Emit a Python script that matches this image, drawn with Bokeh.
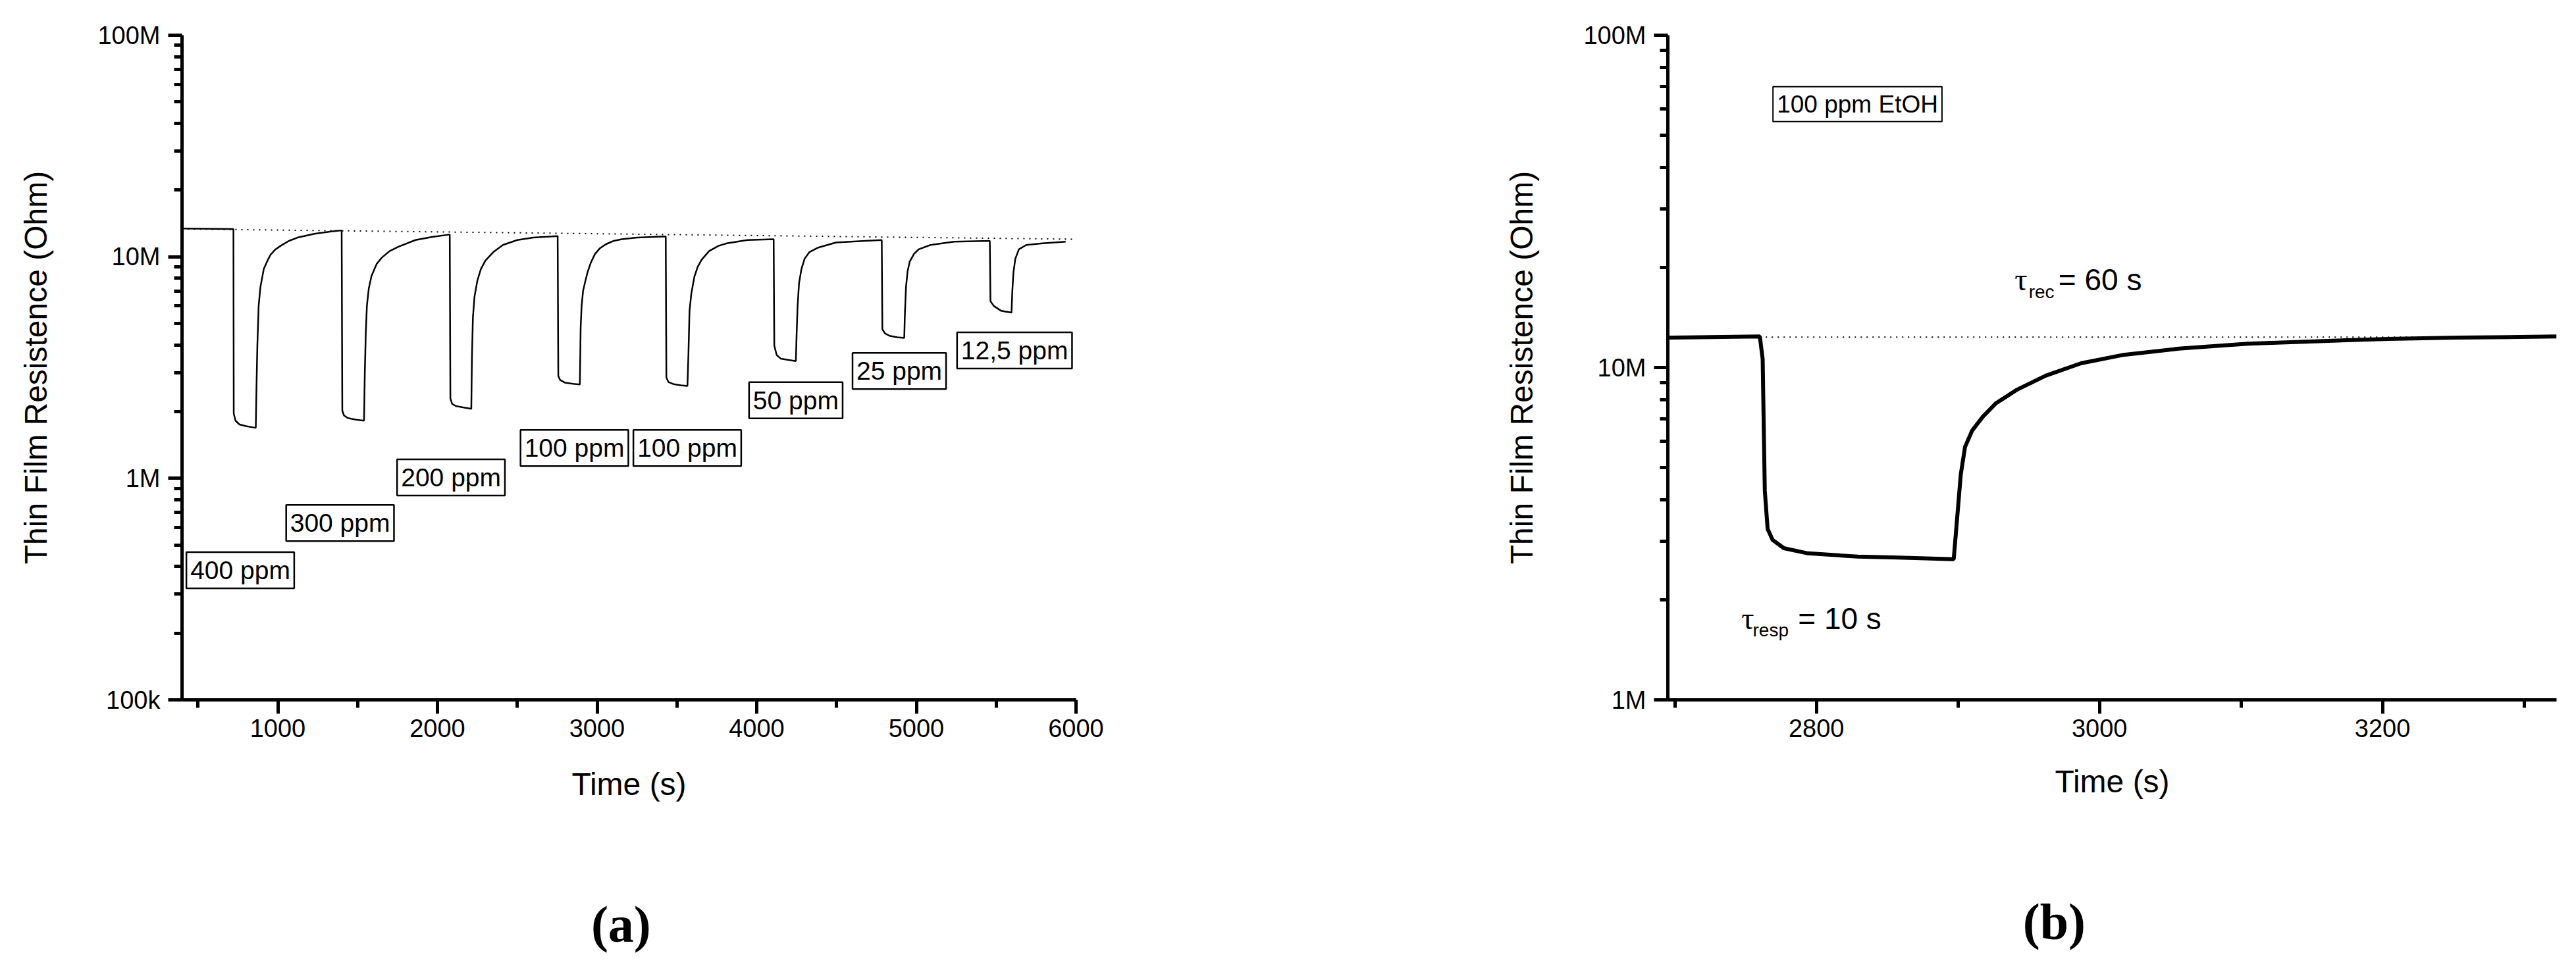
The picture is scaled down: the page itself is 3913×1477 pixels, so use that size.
from bokeh.plotting import figure
from bokeh.layouts import row
from bokeh.models import FixedTicker, CustomJSTickFormatter, Label, Range1d, LinearAxis
from bokeh.embed import file_html
from bokeh.resources import INLINE

# ---------------- Panel (a): full sensing sequence ----------------
time_a = [400, 722,
          724, 735, 760, 800, 862, 866, 872, 880, 891, 912, 935, 954, 985, 1017, 1070, 1123, 1229, 1334, 1400,
          1404, 1415, 1439, 1490, 1540, 1545, 1551, 1558, 1570, 1587, 1620, 1651, 1700, 1756, 1862, 1967, 2077,
          2081, 2092, 2115, 2160, 2212, 2216, 2222, 2232, 2250, 2272, 2300, 2350, 2410, 2500, 2600, 2753,
          2757, 2768, 2800, 2850, 2892, 2897, 2903, 2912, 2927, 2942, 2962, 2987, 3016, 3056, 3105, 3155, 3250, 3430,
          3434, 3447, 3480, 3525, 3566, 3572, 3579, 3590, 3609, 3630, 3655, 3701, 3760, 3812, 3942, 4106,
          4110, 4125, 4150, 4200, 4245, 4250, 4256, 4265, 4280, 4300, 4330, 4385, 4496, 4681, 4783,
          4787, 4805, 4831, 4880, 4924, 4928, 4935, 4945, 4958, 4985, 5014, 5088, 5236, 5460,
          5464, 5485, 5531, 5596, 5601, 5608, 5620, 5642, 5688, 5790, 5935]
res_a = [13.4e6, 13.35e6,
         1.96e6, 1.82e6, 1.75e6, 1.72e6, 1.69e6, 2.5e6, 4.0e6, 6.0e6, 7.3e6, 8.8e6, 9.6e6, 10.2e6, 10.8e6, 11.2e6, 11.8e6, 12.2e6, 12.7e6, 13.0e6, 13.15e6,
         2.02e6, 1.92e6, 1.87e6, 1.84e6, 1.82e6, 3.0e6, 4.5e6, 6.0e6, 7.2e6, 8.2e6, 9.3e6, 9.9e6, 10.6e6, 11.1e6, 11.9e6, 12.3e6, 12.6e6,
         2.29e6, 2.17e6, 2.12e6, 2.09e6, 2.06e6, 3.5e6, 5.3e6, 6.6e6, 7.8e6, 8.8e6, 9.6e6, 10.5e6, 11.3e6, 11.9e6, 12.2e6, 12.4e6,
         2.9e6, 2.78e6, 2.70e6, 2.67e6, 2.65e6, 4.8e6, 6.0e6, 7.0e6, 7.8e6, 8.6e6, 9.45e6, 10.3e6, 10.9e6, 11.4e6, 11.8e6, 12.0e6, 12.2e6, 12.35e6,
         2.85e6, 2.72e6, 2.66e6, 2.63e6, 2.61e6, 3.6e6, 5.7e6, 6.8e6, 8.1e6, 9.0e6, 9.7e6, 10.6e6, 11.2e6, 11.5e6, 11.9e6, 12.0e6,
         3.97e6, 3.6e6, 3.47e6, 3.42e6, 3.38e6, 4.5e6, 6.0e6, 7.6e6, 8.8e6, 9.8e6, 10.5e6, 11.0e6, 11.6e6, 11.8e6, 11.9e6,
         4.7e6, 4.5e6, 4.4e6, 4.33e6, 4.30e6, 5.5e6, 7.3e6, 8.6e6, 9.5e6, 10.3e6, 10.8e6, 11.3e6, 11.7e6, 11.8e6,
         6.3e6, 6.0e6, 5.7e6, 5.6e6, 7.0e6, 8.5e6, 9.8e6, 10.8e6, 11.3e6, 11.5e6, 11.7e6]
base_a_t = [400, 6000]
base_a_r = [13.35e6, 12.0e6]

conc_text = ["400 ppm", "300 ppm", "200 ppm", "100 ppm", "100 ppm", "50 ppm", "25 ppm", "12,5 ppm"]
conc_t = [765, 1390, 2085, 2858, 3565, 4245, 4893, 5615]
conc_r = [385e3, 628e3, 1.01e6, 1.37e6, 1.37e6, 2.25e6, 3.05e6, 3.78e6]

xticks_a = [1000, 2000, 3000, 4000, 5000, 6000]
xminor_a = [500, 1500, 2500, 3500, 4500, 5500]
yticks_a = [1e5, 1e6, 1e7, 1e8]

# ---------------- Panel (b): single 100 ppm pulse ----------------
time_b = [2695, 2760, 2762, 2763.5, 2765.5, 2769, 2777, 2794, 2829, 2858, 2897,
          2902, 2905, 2910, 2917.5, 2927, 2942, 2962, 2987, 3016, 3056, 3105, 3155, 3204, 3253, 3323]
res_b = [12.3e6, 12.4e6, 10.6e6, 4.27e6, 3.27e6, 3.03e6, 2.86e6, 2.76e6, 2.70e6, 2.68e6, 2.65e6,
         4.77e6, 5.77e6, 6.46e6, 7.11e6, 7.82e6, 8.59e6, 9.45e6, 10.3e6, 10.9e6, 11.4e6, 11.8e6, 12.0e6, 12.2e6, 12.3e6, 12.4e6]
base_b_t = [2760, 3323]
base_b_r = [12.35e6, 12.35e6]

xticks_b = [2800, 3000, 3200]
xminor_b = [2700, 2900, 3100, 3300]
yticks_b = [1e6, 1e7, 1e8]

FONT = "Liberation Sans"


def minor_log(decades):
    out = []
    for d in decades:
        for m in range(2, 10):
            out.append(m * d)
    return out


fmt_code = """
if (tick >= 1e6) { return Math.round(tick / 1e6) + 'M'; }
return Math.round(tick / 1e3) + 'k';
"""


def style(p, xt, xm, yt, ym, xlab_standoff):
    p.xaxis.ticker = FixedTicker(ticks=xt, minor_ticks=xm)
    p.yaxis.ticker = FixedTicker(ticks=yt, minor_ticks=ym)
    p.yaxis.formatter = CustomJSTickFormatter(code=fmt_code)
    for ax in (p.xaxis, p.yaxis):
        ax.axis_line_width = 5
        ax.axis_line_color = "black"
        ax.major_tick_line_width = 5
        ax.minor_tick_line_width = 5
        ax.major_tick_line_color = "black"
        ax.minor_tick_line_color = "black"
        ax.major_tick_out = 21
        ax.major_tick_in = 0
        ax.minor_tick_out = 12
        ax.minor_tick_in = 0
        ax.major_label_text_font = FONT
        ax.major_label_text_font_size = "38px"
        ax.major_label_text_color = "black"
        ax.axis_label_text_font = FONT
        ax.axis_label_text_font_size = "48px"
        ax.axis_label_text_font_style = "normal"
        ax.axis_label_text_color = "black"
    p.xaxis.major_label_standoff = 8
    p.xaxis.axis_label_standoff = xlab_standoff
    p.yaxis.major_label_standoff = 12
    p.yaxis.axis_label_standoff = 64
    p.xgrid.visible = False
    p.ygrid.visible = False
    p.outline_line_color = None
    p.background_fill_color = "white"
    p.border_fill_color = "white"


def caption(p, text, at, standoff):
    # panel caption drawn as the single label of an extra, line-less bottom axis
    cap = LinearAxis(ticker=FixedTicker(ticks=[at], minor_ticks=[]),
                     formatter=CustomJSTickFormatter(code="return '%s';" % text),
                     axis_line_color=None, major_tick_line_color=None, minor_tick_line_color=None,
                     major_tick_out=0, major_tick_in=0, minor_tick_out=0, minor_tick_in=0,
                     major_label_standoff=standoff,
                     major_label_text_font="Liberation Serif", major_label_text_font_size="78px",
                     major_label_text_font_style="bold", major_label_text_color="black")
    p.add_layout(cap, "below")


# ---------- figure (a) ----------
pa = figure(width=1684, height=1477, y_axis_type="log",
            x_range=Range1d(400, 6000), y_range=Range1d(1e5, 1e8),
            output_backend="svg", toolbar_location=None,
            min_border_left=276, min_border_right=50, min_border_top=48, min_border_bottom=410,
            x_axis_label="Time (s)", y_axis_label="Thin Film Resistence (Ohm)")
style(pa, xticks_a, xminor_a, yticks_a, minor_log([1e5, 1e6, 1e7]), 42)
pa.line(base_a_t, base_a_r, line_color="black", line_width=2, line_dash="2 7")
pa.line(time_a, res_a, line_color="black", line_width=2.5)
for txt, t, r in zip(conc_text, conc_t, conc_r):
    pa.add_layout(Label(x=t, y=r, text=txt, text_align="center", text_baseline="middle",
                        text_font=FONT, text_font_size="39px", text_color="black",
                        border_line_color="black", border_line_width=2.5,
                        background_fill_color="white", padding=6))
caption(pa, "(a)", 3150, 140)

# ---------- figure (b) ----------
pb = figure(width=2229, height=1477, y_axis_type="log",
            x_range=Range1d(2695, 3323), y_range=Range1d(1e6, 1e8),
            output_backend="svg", toolbar_location=None,
            min_border_left=849, min_border_right=30, min_border_top=53, min_border_bottom=414,
            x_axis_label="Time (s)", y_axis_label="Thin Film Resistence (Ohm)")
style(pb, xticks_b, xminor_b, yticks_b, minor_log([1e6, 1e7]), 38)
pb.line(base_b_t, base_b_r, line_color="black", line_width=2, line_dash="2 7")
pb.line(time_b, res_b, line_color="black", line_width=6)

pb.add_layout(Label(x=2829, y=62e6, text="100 ppm EtOH", text_align="center", text_baseline="middle",
                    text_font=FONT, text_font_size="37px", text_color="black",
                    border_line_color="black", border_line_width=2,
                    background_fill_color="white", padding=6))

main_kw = dict(text_baseline="alphabetic", text_align="left", text_color="black")
# tau_rec = 60 s
pb.add_layout(Label(x=2940, y=18.4e6, text="τ", text_font="Liberation Serif", text_font_size="48px", **main_kw))
pb.add_layout(Label(x=2950, y=16.9e6, text="rec", text_font=FONT, text_font_size="28px", **main_kw))
pb.add_layout(Label(x=2971, y=18.4e6, text="= 60 s", text_font=FONT, text_font_size="46px", **main_kw))
# tau_resp = 10 s
pb.add_layout(Label(x=2747, y=1.76e6, text="τ", text_font="Liberation Serif", text_font_size="48px", **main_kw))
pb.add_layout(Label(x=2755, y=1.62e6, text="resp", text_font=FONT, text_font_size="28px", **main_kw))
pb.add_layout(Label(x=2787, y=1.76e6, text="= 10 s", text_font=FONT, text_font_size="46px", **main_kw))

caption(pb, "(b)", 2968, 140)

layout = row(pa, pb)
open("out.html", "w").write(file_html(layout, INLINE))
